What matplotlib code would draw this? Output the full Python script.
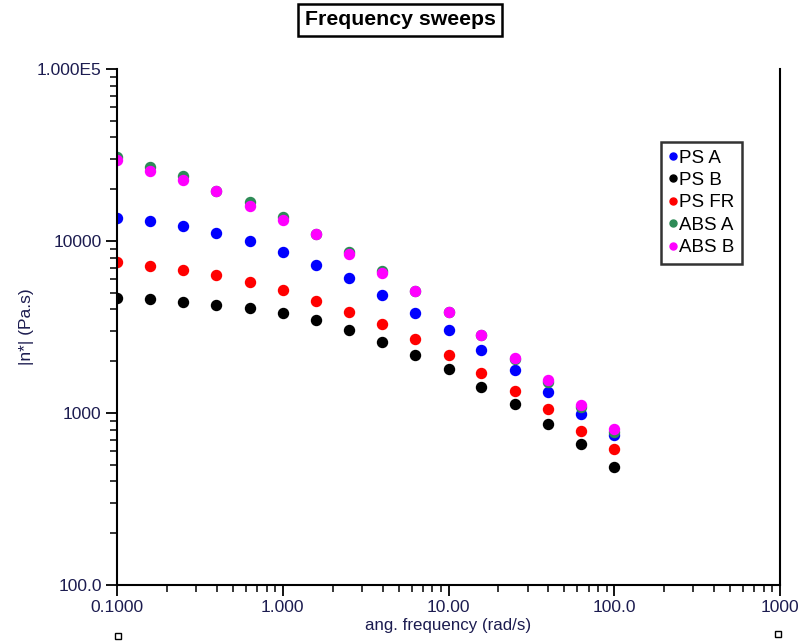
import matplotlib.pyplot as plt
from matplotlib.ticker import FixedLocator, FixedFormatter, LogLocator, NullFormatter
from matplotlib.lines import Line2D

# angular frequency (rad/s), 5 points per decade
freq = [0.1, 0.158, 0.251, 0.398, 0.631, 1.0, 1.58, 2.51, 3.98, 6.31,
        10.0, 15.8, 25.1, 39.8, 63.1, 100.0]

# complex viscosity |n*| (Pa.s)
ps_a = [13600, 13100, 12200, 11100, 10000, 8630, 7250, 6100, 4850, 3810,
        3040, 2330, 1780, 1330, 990, 745]
ps_b = [4660, 4600, 4420, 4250, 4080, 3810, 3470, 3040, 2590, 2170,
        1800, 1420, 1130, 863, 660, 485]
ps_fr = [7550, 7150, 6780, 6340, 5780, 5190, 4480, 3870, 3290, 2690,
         2170, 1710, 1340, 1055, 786, 618]
abs_a = [30800, 26900, 23900, 19500, 16800, 13800, 11000, 8600, 6690, 5120,
         3870, 2840, 2060, 1515, 1085, 775]
abs_b = [29600, 25500, 22600, 19500, 16000, 13200, 11000, 8400, 6520, 5120,
         3870, 2840, 2090, 1560, 1110, 807]

series = [("PS A", ps_a, "#0000ff"),
          ("PS B", ps_b, "#000000"),
          ("PS FR", ps_fr, "#ff0000"),
          ("ABS A", abs_a, "#2e8b57"),
          ("ABS B", abs_b, "#ff00ff")]

x_ticks = [0.1, 1, 10, 100, 1000]
x_labels = ["0.1000", "1.000", "10.00", "100.0", "1000"]
y_ticks = [100, 1000, 10000, 100000]
y_labels = ["100.0", "1000", "10000", "1.000E5"]

txt_col = "#1c1c50"
plt.rcParams["font.family"] = ["Liberation Sans", "DejaVu Sans"]

fig = plt.figure(figsize=(8, 6.42), dpi=100)
ax = fig.add_axes([0.14625, 0.0888, 0.82875, 0.8037])

for name, vals, col in series:
    ax.plot(freq, vals, "o", ms=7.2, color=col, mec=col, label=name)

ax.set_xscale("log")
ax.set_yscale("log")
ax.set_xlim(0.1, 1000)
ax.set_ylim(100, 100000)

ax.xaxis.set_major_locator(FixedLocator(x_ticks))
ax.xaxis.set_major_formatter(FixedFormatter(x_labels))
ax.yaxis.set_major_locator(FixedLocator(y_ticks))
ax.yaxis.set_major_formatter(FixedFormatter(y_labels))
ax.xaxis.set_minor_locator(LogLocator(base=10, subs=range(2, 10)))
ax.yaxis.set_minor_locator(LogLocator(base=10, subs=range(2, 10)))
ax.xaxis.set_minor_formatter(NullFormatter())
ax.yaxis.set_minor_formatter(NullFormatter())

ax.tick_params(which="major", direction="out", length=8, width=1.3,
               labelsize=12.5, labelcolor=txt_col, pad=3)
ax.tick_params(which="minor", direction="out", length=5, width=1.1)
ax.tick_params(right=False, top=False, which="both")

ax.spines["top"].set_visible(False)
for s in ["left", "bottom", "right"]:
    ax.spines[s].set_linewidth(1.5)

ax.set_xlabel("ang. frequency (rad/s)", fontsize=12.2, color=txt_col, labelpad=2)
ax.set_ylabel("|n*| (Pa.s)", fontsize=12.5, color=txt_col, labelpad=2)

fig.text(0.5, 0.969, "Frequency sweeps", ha="center", va="center",
         fontsize=15.3, fontweight="bold",
         bbox=dict(boxstyle="square,pad=0.3", fc="white", ec="black", lw=1.8))

leg = ax.legend(loc="upper left", bbox_to_anchor=(0.8205, 0.8585),
                fontsize=13.5, frameon=True, fancybox=False, borderpad=0.4,
                handlelength=0.45, handletextpad=0.12, labelspacing=0.28,
                borderaxespad=0, markerscale=0.7)
leg.get_frame().set_edgecolor("black")
leg.get_frame().set_linewidth(1.8)

# small hollow squares below the axis ends
for fx, fy in [(0.147, 0.009), (0.973, 0.013)]:
    fig.add_artist(Line2D([fx], [fy], marker="s", ms=4, mfc="white",
                          mec="black", mew=1, transform=fig.transFigure))

fig.savefig("out.png", dpi=100)
